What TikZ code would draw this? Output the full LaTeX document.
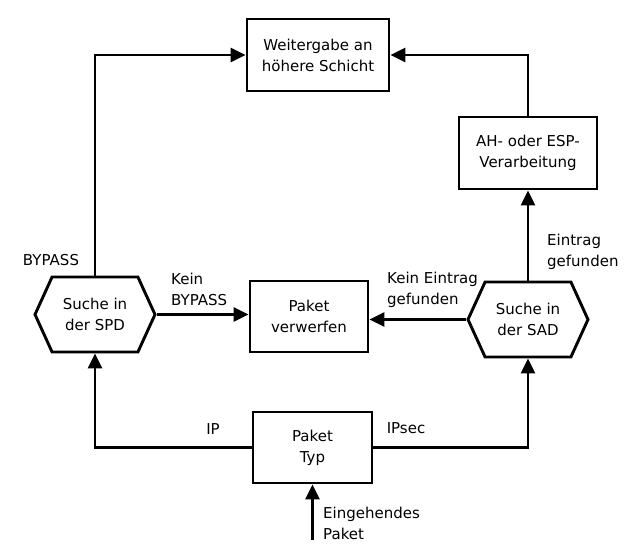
\documentclass[tikz,border=0pt]{standalone}
\usepackage{fontspec}
\setmainfont{DejaVu Sans}
\usetikzlibrary{arrows.meta,shapes.symbols}
\begin{document}
\begin{tikzpicture}[x=1pt,y=-1pt,
  txt/.style={font=\fontsize{15}{21}\selectfont, align=center},
  box/.style={txt, draw, line width=2.9pt, inner sep=0pt},
  hexa/.style={txt, draw, line width=2.9pt, inner sep=0pt, signal, signal to=east and west, signal pointer angle=131, minimum width=120pt, minimum height=75pt},
  lbl/.style={font=\fontsize{15}{21}\selectfont, align=left, inner sep=0pt},
  conn/.style={line width=2.9pt, -{Triangle[length=15pt,width=14pt]}}]
\fill[white] (0,0) rectangle (630,554);
\useasboundingbox (0,0) rectangle (630,554);

\node[box, minimum width=142pt, minimum height=72pt] (weiter) at (318,55) {Weitergabe an\\höhere Schicht};
\node[box, minimum width=138pt, minimum height=72pt] (ah) at (528,153) {AH- oder ESP-\\Verarbeitung};
\node[box, minimum width=118pt, minimum height=71pt] (verw) at (309,316.5) {Paket\\verwerfen};
\node[box, minimum width=119pt, minimum height=71pt] (typ) at (312.5,447.5) {Paket\\Typ};
\node[hexa] (spd) at (95,314.5) {Suche in\\der SPD};
\node[hexa] (sad) at (528,319.5) {Suche in\\der SAD};
\coordinate (in) at (312.5,540);

\draw[conn] (spd.north) |- (weiter.west);
\draw[conn] (ah.north) |- (weiter.east);
\draw[conn] (spd.east) -- (verw.west |- spd.east);
\draw[conn] (sad.west) -- (verw.east |- sad.west);
\draw[conn] (sad.north) -- (ah.south);
\draw[conn] (typ.west) -| (spd.south);
\draw[conn] (typ.east) -| (sad.south);
\draw[conn] (in) -- (typ.south);

\node[lbl] (lbypass) at (51,260) {BYPASS};
\node[lbl, anchor=west] (lkein) at (171,289.5) {Kein\\BYPASS};
\node[lbl, anchor=west] (lkeine) at (387,289.5) {Kein Eintrag\\gefunden};
\node[lbl, anchor=west] (lein) at (547,252) {Eintrag\\gefunden};
\node[lbl] (lip) at (213,429) {IP};
\node[lbl] (lipsec) at (406,428) {IPsec};
\node[lbl, anchor=west] (lin) at (323,523.5) {Eingehendes\\Paket};
\end{tikzpicture}
\end{document}
